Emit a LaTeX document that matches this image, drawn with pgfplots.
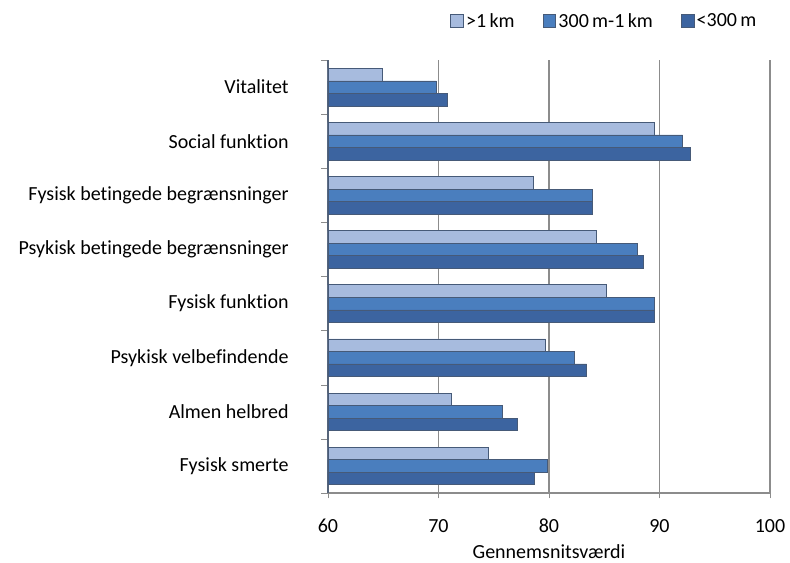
\documentclass[border=0pt]{standalone}
\usepackage{pgfplots}
\pgfplotsset{compat=1.18}
\usepackage{fontspec}
\setmainfont[Ligatures={NoCommon}]{Carlito}

\definecolor{lys}{RGB}{167,187,222}
\definecolor{mellem}{RGB}{74,126,190}
\definecolor{moerk}{RGB}{60,100,160}
\definecolor{kant}{RGB}{70,90,120}
\definecolor{gitter}{RGB}{140,140,140}

\begin{document}
\begin{tikzpicture}[font=\fontsize{15}{17}\selectfont]
  % fixed frame so the page keeps the 790x563 proportions
  \useasboundingbox (-246pt,-52.5pt) rectangle (346.5pt,369.75pt);
  \begin{axis}[
    at={(0,0)}, anchor=south west,
    scale only axis,
    width=331.5pt, height=324.75pt,
    xbar=0pt, bar width=9.4pt,
    xmin=60, xmax=100,
    ymin=-0.5, ymax=7.5,
    y dir=reverse,
    xtick={60,70,80,90,100},
    ytick={0,1,2,3,4,5,6,7},
    yticklabels={Vitalitet, Social funktion, Fysisk betingede begrænsninger,
      Psykisk betingede begrænsninger, Fysisk funktion, Psykisk velbefindende,
      Almen helbred, Fysisk smerte},
    minor ytick={-0.5,0.5,...,7.5},
    major y tick style={draw=none},
    minor y tick style={draw=gitter},
    minor tick length=5pt,
    major tick length=4pt,
    tick align=outside,
    xtick pos=bottom, ytick pos=left,
    xmajorgrids, major grid style={gitter, line width=0.8pt},
    axis x line*=bottom, axis y line*=left,
    x axis line style={gitter, line width=0.8pt, -},
    y axis line style={kant!70!gray, line width=0.8pt, -},
    x tick style={gitter},
    xticklabel style={yshift=-12pt},
    yticklabel style={xshift=-22pt},
    /pgf/number format/assume math mode=true,
    xlabel={Gennemsnitsværdi},
    xlabel style={yshift=-2pt},
    legend columns=3,
    legend style={at={(0.985,1)}, anchor=south east, yshift=19pt, draw=none,
      /tikz/every even column/.append style={column sep=19pt}},
    legend image code/.code={\draw[#1] (0pt,-4.7pt) rectangle (9.5pt,4.8pt);},
  ]
    \addplot[fill=lys, draw=kant, bar shift=9.4pt] coordinates {
      (64.9,0) (89.5,1) (78.6,2) (84.3,3) (85.2,4) (79.7,5) (71.2,6) (74.5,7)};
    \addplot[fill=mellem, draw=kant, bar shift=0pt] coordinates {
      (69.8,0) (92.1,1) (83.9,2) (88.0,3) (89.5,4) (82.3,5) (75.8,6) (79.8,7)};
    \addplot[fill=moerk, draw=kant, bar shift=-9.4pt] coordinates {
      (70.8,0) (92.8,1) (83.9,2) (88.5,3) (89.5,4) (83.4,5) (77.1,6) (78.7,7)};
    \legend{>1\,km, 300\,m-1\,km, <300\,m}
  \end{axis}
\end{tikzpicture}
\end{document}
